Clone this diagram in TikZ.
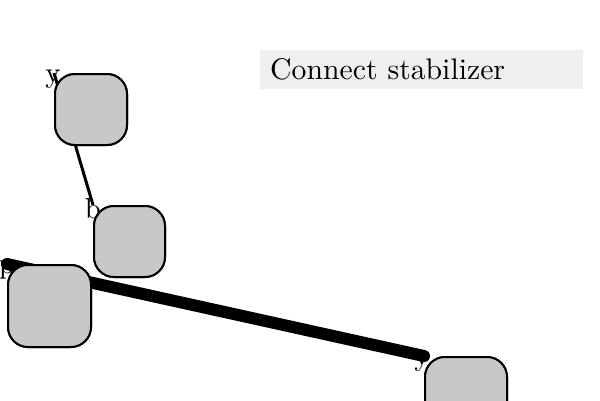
\documentclass[tikz,border=0pt]{standalone}
\usepackage{fontspec}
\newfontfamily\lmten[Extension=.otf]{lmroman10-regular}
\begin{document}
\begin{tikzpicture}[x=1pt,y=-1pt,
  blob/.style={draw=black,line width=2pt,fill=boxgray,rounded corners=20pt,inner sep=0pt},
  lbl/.style={font=\lmten\fontsize{29}{34}\selectfont,inner sep=0pt,anchor=center},
  title/.style={fill=titlegray,font=\lmten\fontsize{29.75}{34}\selectfont,anchor=north west,inner sep=0pt,
     minimum width=323pt,minimum height=39pt,text width=313pt,align=left},
]
\definecolor{boxgray}{HTML}{C8C8C8}
\definecolor{titlegray}{HTML}{EFEFEF}
\useasboundingbox (0,0) rectangle (600,400);
% nodes (positions)
\path
  node[blob,minimum width=72pt,minimum height=71pt] (n1) at (91,109.5) {}
  node[blob,minimum width=71pt,minimum height=71pt] (n2) at (129.5,241.5) {}
  node[blob,minimum width=83pt,minimum height=82pt] (n3) at (49.5,306) {}
  node[blob,minimum width=82pt,minimum height=82pt] (n4) at (466,398) {};
% connectors (drawn underneath the boxes)
\draw[line width=3pt] (n1.north west) -- (n2.north west);
\draw[line width=12pt,line cap=round] (n3.north west) -- (n4.north west);
% redraw boxes on top
\path
  node[blob,minimum width=72pt,minimum height=71pt] at (n1) {}
  node[blob,minimum width=71pt,minimum height=71pt] at (n2) {}
  node[blob,minimum width=83pt,minimum height=82pt] at (n3) {}
  node[blob,minimum width=82pt,minimum height=82pt] at (n4) {};
% labels
\node[lbl] (l1) at ([xshift=-1pt,yshift=-6pt]n1.north west) {y};
\node[lbl] (l2) at ([yshift=-4pt]n2.north west) {b};
\node[lbl] (l3) at ([yshift=-6pt]n3.north west) {p};
\node[lbl] (l4) at ([xshift=-2pt,yshift=-6pt]n4.north west) {y};
% title
\node[title] (t) at (260,50) {\hspace*{5pt}Connect stabilizer};
\end{tikzpicture}
\end{document}
